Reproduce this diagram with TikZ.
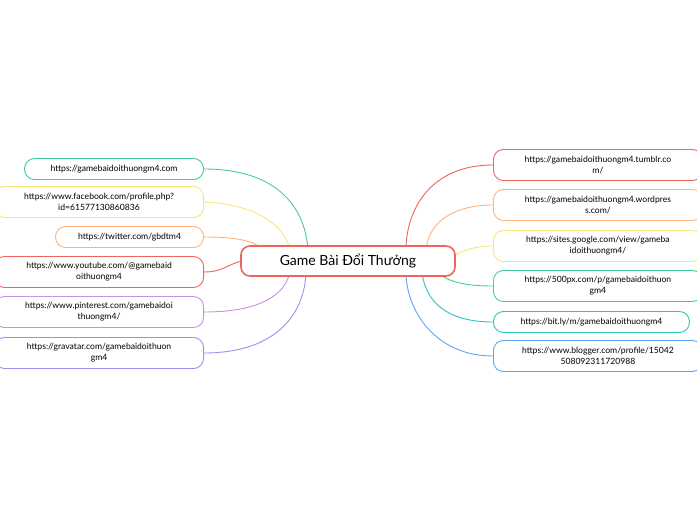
\documentclass[tikz,border=0pt]{standalone}
\usepackage{fontspec}
\setmainfont{Lato}
\begin{document}
\begin{tikzpicture}[x=1pt,y=-1pt,
    leaf/.style={draw, line width=0.9pt, rounded corners=10pt, fill=white, font=\fontsize{8.6}{11}\selectfont, align=center, inner sep=2pt, minimum height=21pt},
    leftleaf/.style={leaf, anchor=east},
    rightleaf/.style={leaf, anchor=west},
    link/.style={line width=0.9pt}
]
    \definecolor{cgreen}{HTML}{45CC9E}
    \definecolor{cyellow}{HTML}{F7E87A}
    \definecolor{corange}{HTML}{FFB27E}
    \definecolor{cred}{HTML}{F0625E}
    \definecolor{cpurple}{HTML}{C990E6}
    \definecolor{cviolet}{HTML}{9C8EF2}
    \definecolor{cblue}{HTML}{5AA6F0}
    \definecolor{cteal}{HTML}{2EC2C2}
    \useasboundingbox (0,0) rectangle (697,520);
    % links drawn first
    \coordinate (l1) at (204,169);
    \coordinate (l2) at (204,202);
    \coordinate (l3) at (204,237);
    \coordinate (l4) at (204,272);
    \coordinate (l5) at (204,312);
    \coordinate (l6) at (204,353);
    \coordinate (r1) at (493,165);
    \coordinate (r2) at (493,205);
    \coordinate (r3) at (493,246);
    \coordinate (r4) at (493,286);
    \coordinate (r5) at (493,322);
    \coordinate (r6) at (493,356);
    \coordinate (c1) at (308,250);
    \coordinate (c2) at (290,250);
    \coordinate (c3) at (262,248);
    \coordinate (c4) at (244,261);
    \coordinate (c5) at (290,272);
    \coordinate (c6) at (306,272);
    \coordinate (d1) at (406,250);
    \coordinate (d2) at (426,250);
    \coordinate (d3) at (452,256);
    \coordinate (d4) at (438,272);
    \coordinate (d5) at (422,272);
    \coordinate (d6) at (406,272);
    \draw[link, cgreen] (l1) .. controls (275,169) and (305,205) .. (c1);
    \draw[link, cyellow] (l2) .. controls (255,204) and (285,225) .. (c2);
    \draw[link, corange] (l3) .. controls (235,237) and (250,240) .. (c3);
    \draw[link, cred] (l4) .. controls (225,272) and (230,262) .. (c4);
    \draw[link, cpurple] (l5) .. controls (260,312) and (285,295) .. (c5);
    \draw[link, cviolet] (l6) .. controls (280,353) and (305,310) .. (c6);
    \draw[link, cred] (r1) .. controls (430,165) and (406,210) .. (d1);
    \draw[link, corange] (r2) .. controls (450,205) and (428,225) .. (d2);
    \draw[link, cyellow] (r3) .. controls (475,246) and (465,250) .. (d3);
    \draw[link, cgreen] (r4) .. controls (460,286) and (445,280) .. (d4);
    \draw[link, cteal] (r5) .. controls (445,322) and (425,300) .. (d5);
    \draw[link, cblue] (r6) .. controls (435,356) and (406,310) .. (d6);
    % central node
    \node[draw=cred, line width=1.6pt, rounded corners=9pt, fill=white, minimum width=214pt, minimum height=30pt, font=\fontsize{14}{16}\selectfont] (root) at (348,261) {Game Bài Đổi Thưởng};
    % left leaves
    \node[leftleaf, draw=cgreen, text width=175pt] (a1) at (l1) {https://gamebaidoithuongm4.com};
    \node[leftleaf, draw=cyellow, text width=205pt, minimum height=31pt] (a2) at (l2) {https://www.facebook.com/profile.php?\\id=61577130860836};
    \node[leftleaf, draw=corange, text width=144pt] (a3) at (l3) {https://twitter.com/gbdtm4};
    \node[leftleaf, draw=cred, text width=205pt, minimum height=31pt] (a4) at (l4) {https://www.youtube.com/@gamebaid\\oithuongm4};
    \node[leftleaf, draw=cpurple, text width=205pt, minimum height=31pt] (a5) at (l5) {https://www.pinterest.com/gamebaidoi\\thuongm4/};
    \node[leftleaf, draw=cviolet, text width=205pt, minimum height=31pt] (a6) at (l6) {https://gravatar.com/gamebaidoithuon\\gm4};
    % right leaves
    \node[rightleaf, draw=cred, text width=205pt, minimum height=31pt] (b1) at (r1) {https://gamebaidoithuongm4.tumblr.co\\m/};
    \node[rightleaf, draw=corange, text width=205pt, minimum height=31pt] (b2) at (r2) {https://gamebaidoithuongm4.wordpres\\s.com/};
    \node[rightleaf, draw=cyellow, text width=205pt, minimum height=31pt] (b3) at (r3) {https://sites.google.com/view/gameba\\idoithuongm4/};
    \node[rightleaf, draw=cgreen, text width=205pt, minimum height=31pt] (b4) at (r4) {https://500px.com/p/gamebaidoithuon\\gm4};
    \node[rightleaf, draw=cteal, text width=192pt] (b5) at (r5) {https://bit.ly/m/gamebaidoithuongm4};
    \node[rightleaf, draw=cblue, text width=205pt, minimum height=31pt] (b6) at (r6) {https://www.blogger.com/profile/15042\\508092311720988};
\end{tikzpicture}
\end{document}
